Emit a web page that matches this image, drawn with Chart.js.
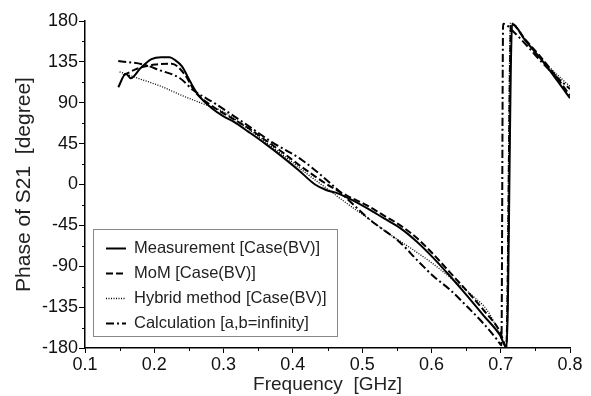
<!DOCTYPE html>
<html>
<head>
<meta charset="utf-8">
<script src="https://cdn.jsdelivr.net/npm/chart.js@4.4.1/dist/chart.umd.min.js"></script>
<style>
  html, body { margin: 0; padding: 0; background: #fff; }
  #wrap { width: 591px; height: 396px; }
</style>
</head>
<body>
<div id="wrap"><canvas id="phaseChart"></canvas></div>
<script>
// ---- DATA ----
const freqMeas  = [0.148, 0.159, 0.166, 0.180, 0.196, 0.210, 0.222, 0.230, 0.240, 0.252, 0.264, 0.283, 0.300, 0.315, 0.336, 0.360, 0.384, 0.408, 0.432, 0.448, 0.462, 0.480, 0.507, 0.531, 0.555, 0.579, 0.603, 0.627, 0.651, 0.675, 0.699, 0.7085, 0.7165, 0.735, 0.757, 0.780, 0.800];
const phaseMeas = [107, 122, 117, 128, 138, 140, 140, 137, 130, 113, 98, 84, 75, 69, 58, 45, 31, 16, 0, -6, -9, -15, -26, -37, -48, -63, -81, -101, -122, -144, -166, -180, 177, 159, 139, 116, 95];

const freqMoM  = [0.155, 0.177, 0.201, 0.225, 0.244, 0.259, 0.288, 0.310, 0.336, 0.360, 0.384, 0.408, 0.432, 0.456, 0.480, 0.507, 0.531, 0.555, 0.579, 0.603, 0.627, 0.651, 0.675, 0.699, 0.708, 0.715, 0.735, 0.757, 0.780, 0.800];
const phaseMoM = [120, 128, 132, 133, 121, 102, 84, 74, 62, 49, 36, 22, 9, -3, -13, -23, -34, -45, -59, -77, -97, -117, -138, -162, -178, 177, 160, 141, 119, 98];

const freqHyb  = [0.150, 0.180, 0.210, 0.240, 0.270, 0.300, 0.330, 0.360, 0.390, 0.420, 0.450, 0.480, 0.510, 0.540, 0.570, 0.600, 0.630, 0.660, 0.680, 0.700, 0.708, 0.714, 0.740, 0.760, 0.780, 0.800];
const phaseHyb = [124, 116, 108, 98, 89, 80, 64, 47, 30, 12, -5, -22, -38, -55, -70, -86, -104, -123, -138, -166, -178, 178, 155, 137, 122, 108];

const freqCalc  = [0.148, 0.185, 0.207, 0.237, 0.256, 0.288, 0.331, 0.369, 0.413, 0.456, 0.483, 0.510, 0.555, 0.579, 0.603, 0.627, 0.651, 0.675, 0.695, 0.701, 0.7035, 0.720, 0.740, 0.760, 0.780, 0.800];
const phaseCalc = [136, 132, 126, 117, 104, 89, 67, 47, 27, 0, -19, -38, -64, -83, -101, -116, -134, -153, -171, -177, 177, 167, 151, 134, 119, 105];

const seriesNames = ["Measurement [Case(BV)]", "MoM [Case(BV)]", "Hybrid method [Case(BV)]", "Calculation [a,b=infinity]"];
const xTicks = [0.1, 0.2, 0.3, 0.4, 0.5, 0.6, 0.7, 0.8];
const yTicks = [-180, -135, -90, -45, 0, 45, 90, 135, 180];

const FONT = "'Liberation Sans', Arial, Helvetica, sans-serif";

function pts(xs, ys) {
  return xs.map((x, i) => ({ x: x, y: ys[i] }));
}

// ---- minor ticks + legend box ----
const extras = {
  id: "extras",
  afterDraw(chart) {
    const c = chart.ctx;
    const xs = chart.scales.x, ys = chart.scales.y;
    c.save();
    c.strokeStyle = "#000";
    c.lineWidth = 1;
    c.beginPath();
    for (let v = 0.15; v < 0.8; v += 0.1) {
      const px = Math.round(xs.getPixelForValue(v)) + 0.5;
      c.moveTo(px, xs.top);
      c.lineTo(px, xs.top + 3);
    }
    for (let v = -157.5; v < 180; v += 45) {
      const py = Math.round(ys.getPixelForValue(v)) + 0.5;
      c.moveTo(ys.right, py);
      c.lineTo(ys.right - 3, py);
    }
    c.stroke();

    // legend
    const bx = 93.5, by = 229.5, bw = 244, bh = 107;
    c.strokeStyle = "#888";
    c.strokeRect(bx, by, bw, bh);
    c.font = "16.5px " + FONT;
    c.fillStyle = "#222";
    c.textBaseline = "middle";
    chart.data.datasets.forEach((ds, i) => {
      const y = 248 + i * 25;
      c.strokeStyle = "#000";
      c.lineWidth = ds.borderWidth;
      c.setLineDash(ds.borderDash || []);
      c.beginPath();
      c.moveTo(106, y + 0.5);
      c.lineTo(126, y + 0.5);
      c.stroke();
      c.setLineDash([]);
      c.fillText(ds.label, 134, y);
    });
    c.restore();
  }
};

const ctx = document.getElementById("phaseChart").getContext("2d");
new Chart(ctx, {
  type: "line",
  data: {
    datasets: [
      { label: seriesNames[0], data: pts(freqMeas, phaseMeas), borderColor: "#000", borderWidth: 2, borderDash: [] },
      { label: seriesNames[1], data: pts(freqMoM, phaseMoM), borderColor: "#000", borderWidth: 2, borderDash: [7, 3] },
      { label: seriesNames[2], data: pts(freqHyb, phaseHyb), borderColor: "#000", borderWidth: 1.3, borderDash: [1, 1.5] },
      { label: seriesNames[3], data: pts(freqCalc, phaseCalc), borderColor: "#000", borderWidth: 2, borderDash: [8, 3, 2, 3] }
    ]
  },
  options: {
    responsive: true,
    maintainAspectRatio: false,
    animation: false,
    devicePixelRatio: 1,
    layout: { padding: { left: 0, top: 21, right: 21, bottom: 0 } },
    elements: {
      point: { radius: 0 },
      line: { tension: 0, cubicInterpolationMode: "monotone", fill: false }
    },
    plugins: {
      legend: { display: false },
      tooltip: { enabled: false }
    },
    scales: {
      x: {
        type: "linear",
        min: 0.1,
        max: 0.8,
        afterBuildTicks: (s) => { s.ticks = xTicks.map(v => ({ value: v })); },
        afterFit: (s) => { s.height = 48; },
        border: { display: true, color: "#000", width: 1.5 },
        grid: { display: true, drawOnChartArea: false, color: "#000", tickLength: 5 },
        ticks: {
          color: "#111",
          padding: 1,
          maxRotation: 0,
          font: { family: FONT, size: 18 },
          callback: (v) => v.toFixed(1)
        },
        title: {
          display: true,
          text: "Frequency  [GHz]",
          color: "#222",
          font: { family: FONT, size: 19 },
          padding: { top: 0, bottom: 0 }
        }
      },
      y: {
        min: -180,
        max: 180,
        afterBuildTicks: (s) => { s.ticks = yTicks.map(v => ({ value: v })); },
        afterFit: (s) => { s.width = 85; },
        border: { display: true, color: "#000", width: 1.5 },
        grid: { display: true, drawOnChartArea: false, color: "#000", tickLength: 6 },
        ticks: {
          color: "#111",
          padding: 1,
          font: { family: FONT, size: 18 }
        },
        title: {
          display: true,
          text: "Phase of S21  [degree]",
          color: "#222",
          font: { family: FONT, size: 21 },
          padding: { top: 12, bottom: 0 }
        }
      }
    }
  },
  plugins: [extras]
});
</script>
</body>
</html>
